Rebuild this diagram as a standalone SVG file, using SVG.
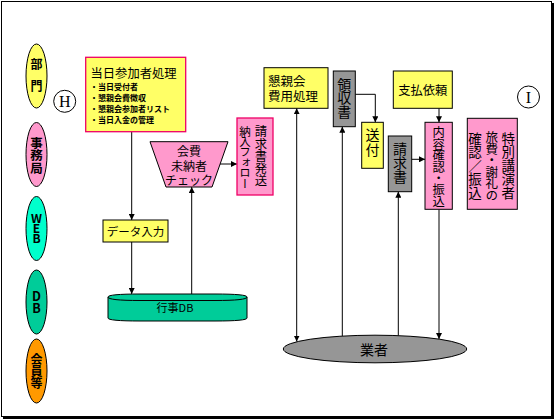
<svg xmlns="http://www.w3.org/2000/svg" width="556" height="420" viewBox="0 0 556 420">
<defs>
<marker id="arr" viewBox="0 0 6 6" refX="6" refY="3" markerWidth="6" markerHeight="6" markerUnits="userSpaceOnUse" orient="auto-start-reverse">
<path d="M0,0 L6,3 L0,6 Z" fill="#000"/>
</marker>
<style>
text{font-family:"Noto Sans CJK JP","Noto Sans",sans-serif;fill:#000}
.v{writing-mode:vertical-rl;text-orientation:upright}
.lg{font-size:12px;font-weight:bold}
.bx{stroke:#000;stroke-width:1}
.y{fill:#ffff66}
.p{fill:#ff99cc}
.g{fill:#969696}
.red{stroke:#ee0066;stroke-width:1.3}
.c{text-anchor:middle}
.con{fill:none;stroke:#000;stroke-width:1}
</style>
</defs>
<rect width="556" height="420" fill="#fff"/>
<rect x="1.5" y="1.5" width="550" height="415" fill="none" stroke="#000" stroke-width="1"/>
<path d="M553,3 V418 H3" fill="none" stroke="#000" stroke-width="2"/>

<g id="legend-bumon"><ellipse cx="36.5" cy="76" rx="10.5" ry="32" fill="#ffff66" stroke="#000"/>
<text x="36.5" y="58" class="v lg" style="letter-spacing:10px">部門</text></g>
<g id="legend-jimukyoku"><ellipse cx="36.5" cy="154.5" rx="10.5" ry="32" fill="#ff99cc" stroke="#000"/>
<text x="36.5" y="136.5" class="v lg" style="font-size:12.5px;letter-spacing:0.3px">事務局</text></g>
<g id="legend-web"><ellipse cx="36.5" cy="228.5" rx="10.5" ry="32" fill="#00ffcc" stroke="#000"/>
<text x="36.5" y="212" class="v lg" style="font-size:12px;letter-spacing:-2px">WEB</text></g>
<g id="legend-db"><ellipse cx="36.5" cy="302" rx="10.5" ry="32" fill="#00cc99" stroke="#000"/>
<text x="36.5" y="289.5" class="v lg" style="font-size:12.5px;letter-spacing:-0.5px">DB</text></g>
<g id="legend-kaiin"><ellipse cx="36.5" cy="371" rx="10.5" ry="32" fill="#ff9900" stroke="#000"/>
<text x="36.5" y="353" class="v lg" style="letter-spacing:0px">会員等</text></g>

<g id="mark-h"><circle cx="64.7" cy="101.3" r="11" fill="#fff" stroke="#000"/>
<text x="64.7" y="107" class="c" style="font-family:'Liberation Serif',serif;font-size:16px">H</text></g>
<g id="mark-i"><circle cx="528.5" cy="97" r="11" fill="#fff" stroke="#000"/>
<text x="528.5" y="103" class="c" style="font-family:'Liberation Serif',serif;font-size:16px">I</text></g>

<g id="connectors">
<path class="con" d="M131.7,131.7 V220" marker-end="url(#arr)"/>
<path class="con" d="M131.7,242 V294" marker-end="url(#arr)"/>
<path class="con" d="M191.7,294 V187" marker-end="url(#arr)"/>
<path class="con" d="M220,164 H237" marker-end="url(#arr)"/>
<path class="con" d="M296.7,108.3 V341.5" marker-start="url(#arr)" marker-end="url(#arr)"/>
<path class="con" d="M342.3,336 V126.7" marker-end="url(#arr)"/>
<path class="con" d="M355.3,94.3 H375.3 V122.3" marker-end="url(#arr)"/>
<path class="con" d="M398.3,335.6 V191.7" marker-end="url(#arr)"/>
<path class="con" d="M411.7,159.3 H425" marker-end="url(#arr)"/>
<path class="con" d="M439,108.3 V122.3" marker-end="url(#arr)"/>
<path class="con" d="M439,209.3 V339" marker-end="url(#arr)"/>
</g>

<g id="touzitsu">
<rect x="85.7" y="57.3" width="100" height="74.4" class="y red"/>
<text x="90.5" y="77.5" style="font-size:12.3px">当日参加者処理</text>
<text style="font-size:8px;font-weight:bold"><tspan x="90" y="89.5">・当日受付者</tspan><tspan x="90" y="100.5">・懇親会費徴収</tspan><tspan x="90" y="111.5">・懇親会参加者リスト</tspan><tspan x="90" y="122.5">・当日入金の管理</tspan></text>
</g>

<g id="data-nyuryoku">
<rect x="103" y="220" width="65" height="22" class="y bx"/>
<text x="135.5" y="236" class="c" style="font-size:11.5px">データ入力</text>
</g>

<g id="gyouji-db">
<path d="M108,297 Q108,294 140,294 H215 Q247,294 247,297 V318 Q247,321 215,321 H140 Q108,321 108,318 Z" fill="#00cc99" stroke="#000"/>
<path d="M108,297 Q108,300.5 140,300.5 H215 Q247,300.5 247,297" fill="none" stroke="#000"/>
<text x="175" y="312" class="c" style="font-size:11px">行事DB</text>
</g>

<g id="kaihi-check">
<path d="M150,141.7 H228 L212,187 H166 Z" class="p bx"/>
<text class="c" style="font-size:12px"><tspan x="189" y="156">会費</tspan><tspan x="189" y="170.5">未納者</tspan><tspan x="189" y="185">チェック</tspan></text>
</g>

<g id="seikyu-hassou">
<rect x="237" y="118" width="36" height="77" class="p red"/>
<text x="261" y="125.5" class="v" style="font-size:12.3px;letter-spacing:-0.1px">請求書発送</text>
<text x="245" y="125.5" class="v" style="font-size:11.5px;letter-spacing:-1.1px">納入フォロー</text>
</g>

<g id="konshinkai">
<rect x="264" y="67.7" width="64" height="40.6" class="y bx"/>
<text x="268" y="85.5" style="font-size:12.5px">懇親会</text>
<text x="268" y="100.5" style="font-size:12.5px">費用処理</text>
</g>

<g id="ryoushusho">
<rect x="333.3" y="71" width="22" height="55.7" class="g bx"/>
<text x="344.3" y="77.5" class="v" style="font-size:14px;letter-spacing:-0.5px">領収書</text>
</g>

<g id="soufu">
<rect x="361.7" y="122.3" width="21.6" height="46" class="y bx"/>
<text x="372.5" y="128" class="v" style="font-size:14px;letter-spacing:1px">送付</text>
</g>

<g id="seikyusho">
<rect x="388.3" y="136" width="23.4" height="55.7" class="g bx"/>
<text x="400" y="141.5" class="v" style="font-size:14px;letter-spacing:0.3px">請求書</text>
</g>

<g id="shiharai">
<rect x="393.3" y="71" width="59" height="37.3" class="y bx"/>
<text x="422.8" y="95" class="c" style="font-size:12.3px">支払依頼</text>
</g>

<g id="naiyou">
<rect x="425" y="122.3" width="27.3" height="87" class="p bx"/>
<text x="438.7" y="126.5" class="v" style="font-size:12.3px;letter-spacing:-0.9px">内容確認・振込</text>
</g>

<g id="tokubetsu">
<rect x="467.3" y="118.3" width="50" height="91" class="p bx"/>
<text x="508.3" y="132" class="v" style="font-size:13.5px;letter-spacing:0px">特別講演者</text>
<text x="491.7" y="131" class="v" style="font-size:12.5px;letter-spacing:-1px">旅費・謝礼の</text>
<text x="475" y="132" class="v" style="font-size:13.5px;letter-spacing:0px">確認／振込</text>
</g>

<g id="gyousha">
<ellipse cx="375" cy="349" rx="91.7" ry="13.8" class="g bx"/>
<text x="374" y="355" class="c" style="font-size:14px">業者</text>
</g>
</svg>
